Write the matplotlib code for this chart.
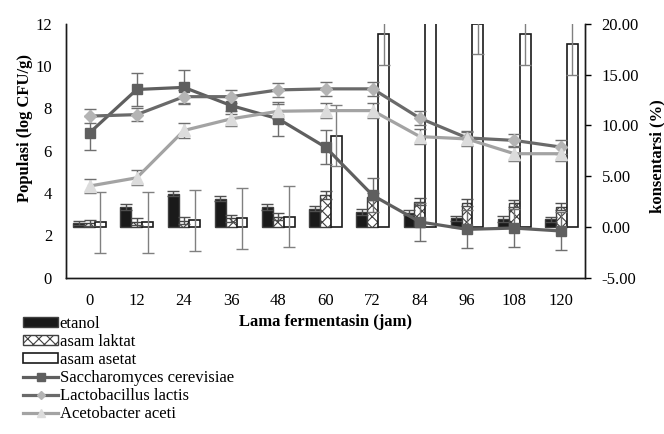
import matplotlib
matplotlib.use('Agg')
import matplotlib.pyplot as plt
from matplotlib.lines import Line2D
import numpy as np

plt.rcParams['font.family'] = ['Liberation Serif', 'DejaVu Serif']
plt.rcParams['hatch.linewidth'] = 0.8

hours = ['0', '12', '24', '36', '48', '60', '72', '84', '96', '108', '120']

# concentration (%) - right axis, bars
etanol = [0.33, 1.97, 3.28, 2.79, 1.97, 1.8, 1.48, 1.4, 0.82, 0.76, 0.73]
etanol_err = [0.2, 0.28, 0.26, 0.28, 0.28, 0.28, 0.28, 0.28, 0.28, 0.28, 0.28]
laktat = [0.33, 0.5, 0.6, 0.82, 1.0, 3.1, 2.95, 2.46, 2.36, 2.3, 1.97]
laktat_err = [0.3, 0.35, 0.35, 0.35, 0.35, 0.4, 0.35, 0.35, 0.35, 0.35, 0.35]
asetat = [0.43, 0.43, 0.66, 0.82, 0.98, 9.0, 19.0, 24.0, 20.0, 19.0, 18.0]
asetat_err = [3.0, 3.0, 3.0, 3.0, 3.0, 3.0, 3.0, 3.0, 3.0, 3.0, 3.0]

# population (log CFU/g) - left axis, lines
sacch = [6.85, 8.9, 9.0, 8.14, 7.51, 6.17, 3.89, 2.63, 2.28, 2.34, 2.2]
sacch_err = [0.8, 0.8, 0.8, 0.4, 0.8, 0.8, 0.8, 0.9, 0.9, 0.9, 0.9]
lacto = [7.64, 7.71, 8.56, 8.56, 8.88, 8.93, 8.93, 7.54, 6.61, 6.49, 6.17]
lacto_err = [0.32] * 11
aceto = [4.33, 4.72, 6.96, 7.51, 7.87, 7.9, 7.9, 6.67, 6.56, 5.86, 5.86]
aceto_err = [0.35] * 11

fig = plt.figure(figsize=(6.64, 4.34), dpi=100)
axb = fig.add_axes([66/664, 1-277.5/434, 519/664, 253.5/434])
axl = axb.twinx()

x = np.arange(len(hours))
w = 0.231
ekw = dict(ecolor='#505050', elinewidth=1.0, capsize=4.5, capthick=1.0)
b1 = axb.bar(x - w, etanol, w, yerr=etanol_err, color='#1a1a1a', edgecolor='#404040',
             linewidth=1.0, error_kw=ekw, label='etanol')
b2 = axb.bar(x, laktat, w, yerr=laktat_err, color='white', edgecolor='#404040', hatch='xxx',
             linewidth=1.0, error_kw=ekw, label='asam laktat')
b3 = axb.bar(x + w, asetat, w, yerr=asetat_err, color='white', edgecolor='#1a1a1a',
             linewidth=1.2, error_kw=dict(ecolor='#808080', elinewidth=1.0, capsize=4.5, capthick=1.0),
             label='asam asetat')

axb.set_ylim(-5, 20)
axb.set_xlim(-0.5, len(hours) - 0.5)
axb.yaxis.tick_right()
axb.yaxis.set_label_position('right')
axb.set_yticks([-5, 0, 5, 10, 15, 20])
axb.set_yticklabels([f'{v:.2f}' for v in [-5, 0, 5, 10, 15, 20]])
axb.tick_params(axis='y', right=True, left=False, length=4, width=1, pad=8, labelsize=12)
axb.set_xticks(x)
axb.set_xticklabels(hours)
axb.tick_params(axis='x', length=0, pad=11, labelsize=12)
axb.set_ylabel('konsentarsi (%)', fontsize=12, fontweight='bold')
axb.yaxis.set_label_coords(1.124, 0.48)
axb.set_xlabel('Lama fermentasin (jam)', fontsize=12, fontweight='bold')
axb.xaxis.set_label_coords(0.5, -0.145)

styles = [
    (sacch, sacch_err, '#5f5f5f', 's', 7, '#5f5f5f', 'Saccharomyces cerevisiae'),
    (lacto, lacto_err, '#6a6a6a', 'D', 6, '#b4b4b4', 'Lactobacillus lactis'),
    (aceto, aceto_err, '#a3a3a3', '^', 8, '#dcdcdc', 'Acetobacter aceti'),
]
line_handles = []
for vals, err, col, mk, ms, mfc, lab in styles:
    axl.errorbar(x, vals, yerr=err, color=col, lw=2.3, marker=mk, ms=ms,
                 mfc=mfc, mec=mfc, ecolor='#6f6f6f', elinewidth=1.0,
                 capsize=4.5, capthick=1.0)
    line_handles.append(Line2D([], [], color=col, lw=2.3, marker=mk, ms=ms * 0.75,
                               mfc=mfc, mec=mfc, label=lab))

axl.set_ylim(0, 12)
axl.yaxis.tick_left()
axl.yaxis.set_label_position('left')
axl.set_yticks([0, 2, 4, 6, 8, 10, 12])
axl.tick_params(axis='y', left=True, right=False, length=0, pad=10, labelsize=12)
axl.set_ylabel('Populasi (log CFU/g)', fontsize=12, fontweight='bold')
axl.yaxis.set_label_coords(-0.064, 0.59)

for a in (axb, axl):
    a.spines['top'].set_visible(False)
    for s in ('left', 'right', 'bottom'):
        a.spines[s].set_color('#1a1a1a')
        a.spines[s].set_linewidth(1.0)

fig.legend(handles=[b1, b2, b3] + line_handles, loc='upper left',
           bbox_to_anchor=(23/664, 1-316/434), frameon=False, fontsize=12,
           handlelength=2.1, handleheight=0.5, handletextpad=0.1,
           labelspacing=0.12, borderpad=0, borderaxespad=0)

fig.savefig('out.png', dpi=100)
